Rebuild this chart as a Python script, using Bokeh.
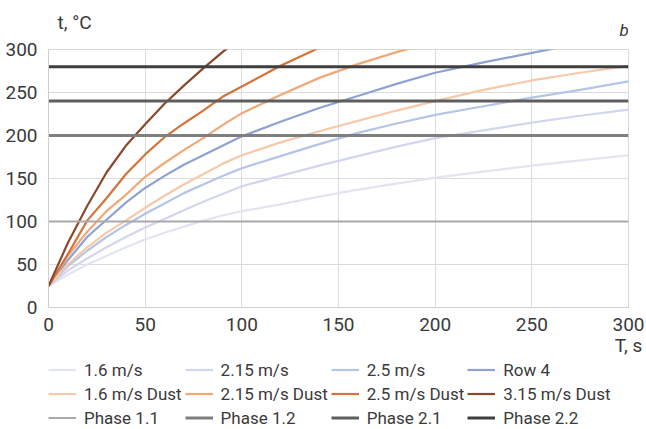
from bokeh.plotting import figure
from bokeh.layouts import column
from bokeh.models import Range1d, FixedTicker, Legend, LegendItem, Label
from bokeh.embed import file_html
from bokeh.resources import INLINE

# ---- data ----
T = [0, 10, 20, 30, 40, 50, 60, 70, 80, 90, 100, 120, 140, 160, 180, 200, 225, 250, 275, 300]

v16 = [25, 38, 50, 60, 70, 79, 87, 94, 101, 107, 112, 120, 129, 137, 144, 151, 158, 165, 171, 177]
v215 = [25, 43, 57, 70, 82, 93, 103, 113, 123, 132, 141, 153, 165, 176, 187, 197, 206, 215, 223, 230]
v25 = [25, 48, 66, 82, 96, 109, 121, 133, 143, 153, 162, 176, 190, 203, 214, 224, 234, 244, 253, 263]
row4 = [25, 55, 82, 102, 122, 139, 153, 166, 177, 188, 199, 216, 232, 246, 260, 273, 285, 296, 307]
d16 = [25, 50, 70, 87, 101, 116, 130, 143, 155, 167, 177, 192, 205, 217, 229, 240, 253, 264, 273, 281]
d215 = [25, 60, 88, 112, 131, 152, 168, 183, 197, 212, 226, 247, 267, 283, 297, 309]
d25 = [25, 62, 101, 127, 155, 178, 198, 214, 229, 245, 257, 281, 302]
d315 = [25, 75, 118, 157, 188, 213, 237, 258, 278, 297, 315]

phase_names = ["Phase 1.1", "Phase 1.2", "Phase 2.1", "Phase 2.2"]
phase_levels = [100, 200, 240, 280]

series_names = ["1.6 m/s", "2.15 m/s", "2.5 m/s", "Row 4",
                "1.6 m/s Dust", "2.15 m/s Dust", "2.5 m/s Dust", "3.15 m/s Dust"]
series_vals = [v16, v215, v25, row4, d16, d215, d25, d315]

x_ticks = [0, 50, 100, 150, 200, 250, 300]
y_ticks = [0, 50, 100, 150, 200, 250, 300]

# ---- styles ----
series_colors = ["#e2e5f1", "#d2d6ee", "#b5c5e6", "#8ea3d3",
                 "#f6c9aa", "#f2a877", "#d4733a", "#8a482c"]
phase_colors = ["#a9a9a9", "#7f7f7f", "#5e5e5e", "#3f3f3f"]
phase_widths = [2, 3, 3, 3]

FONT = "Roboto"
TXT = "#3a3a3a"

# ---- top strip with the unit label and panel letter ----
r = figure(width=646, height=38, output_backend="svg", toolbar_location=None,
           title=None, x_range=Range1d(0, 646), y_range=Range1d(38, 0),
           min_border_left=0, min_border_right=0, min_border_top=0,
           min_border_bottom=0)
r.axis.visible = False
r.grid.visible = False
r.outline_line_color = None
r.add_layout(Label(x=10, y=22, text="t, °C", text_font=FONT,
                   text_font_size="19px", text_color=TXT,
                   text_align="left", text_baseline="middle"))
r.add_layout(Label(x=641, y=29, text="b", text_font=FONT,
                   text_font_size="17px", text_font_style="italic",
                   text_color=TXT, text_align="center", text_baseline="middle"))

# ---- main chart ----
p = figure(width=646, height=321, output_backend="svg", toolbar_location=None,
           title=None, x_range=Range1d(0, 300), y_range=Range1d(0, 300),
           min_border_left=48, min_border_right=18, min_border_top=11,
           min_border_bottom=51)
p.background_fill_color = "white"
p.border_fill_color = "white"
p.outline_line_color = "#d9d9d9"

for ax in (p.xaxis[0], p.yaxis[0]):
    ax.major_tick_line_color = None
    ax.minor_tick_line_color = None
    ax.axis_line_color = "#cfcfcf"
    ax.major_label_text_font = FONT
    ax.major_label_text_font_size = "19px"
    ax.major_label_text_color = TXT
p.xaxis[0].ticker = FixedTicker(ticks=x_ticks)
p.yaxis[0].ticker = FixedTicker(ticks=y_ticks)
p.xaxis[0].major_label_standoff = 4
p.yaxis[0].major_label_standoff = 5

p.xaxis[0].axis_label = "T, s"
p.xaxis[0].axis_label_align = "end"
p.xaxis[0].axis_label_standoff = 0
p.xaxis[0].axis_label_text_font = FONT
p.xaxis[0].axis_label_text_font_size = "19px"
p.xaxis[0].axis_label_text_font_style = "normal"
p.xaxis[0].axis_label_text_color = TXT

p.xgrid.ticker = FixedTicker(ticks=x_ticks)
p.ygrid.ticker = FixedTicker(ticks=y_ticks)
p.xgrid.grid_line_color = "#dcdcdc"
p.ygrid.grid_line_color = "#dcdcdc"

for name, vals, col in zip(series_names, series_vals, series_colors):
    p.line(T[:len(vals)], vals, line_color=col, line_width=2.2)

for name, lvl, col, w in zip(phase_names, phase_levels, phase_colors, phase_widths):
    p.line([T[0], T[-1]], [lvl, lvl], line_color=col, line_width=w)

# ---- legend strip (same series, drawn outside its visible range) ----
q = figure(width=646, height=70, output_backend="svg", toolbar_location=None,
           title=None, x_range=Range1d(0, 300), y_range=Range1d(-20, -10),
           min_border_left=48, min_border_right=0, min_border_top=0,
           min_border_bottom=0)
q.axis.visible = False
q.grid.visible = False
q.outline_line_color = None
q.background_fill_color = "white"
q.border_fill_color = "white"

items = []
for name, vals, col in zip(series_names, series_vals, series_colors):
    rr = q.line(T[:len(vals)], vals, line_color=col, line_width=2.2)
    items.append(LegendItem(label=name, renderers=[rr]))
for name, lvl, col, w in zip(phase_names, phase_levels, phase_colors, phase_widths):
    rr = q.line([T[0], T[-1]], [lvl, lvl], line_color=col, line_width=w)
    items.append(LegendItem(label=name, renderers=[rr]))

legend = Legend(items=items, ncols=4, orientation="horizontal",
                location="top_left", padding=0, margin=0, spacing=3,
                glyph_width=28, glyph_height=21, label_height=21,
                label_standoff=8, border_line_color=None,
                background_fill_alpha=0,
                label_text_font=FONT, label_text_font_size="17px",
                label_text_color=TXT)
q.add_layout(legend, "center")

layout = column(r, p, q, spacing=0)
open("out.html", "w").write(file_html(layout, INLINE))
